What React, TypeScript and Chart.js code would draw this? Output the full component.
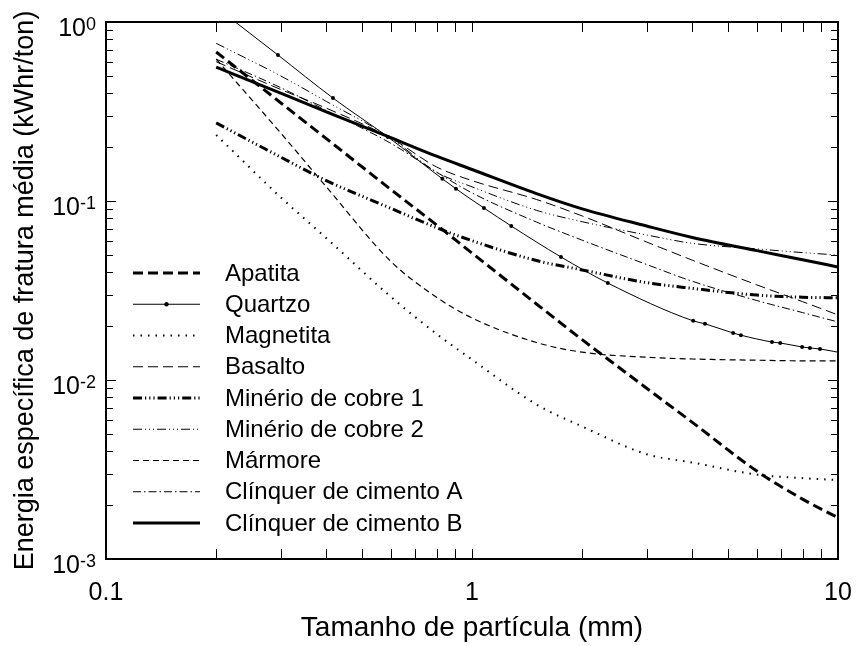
import React, { useEffect, useRef } from 'react';
import { Chart, registerables } from 'chart.js';

Chart.register(...registerables);

const FONT = "'Liberation Sans', Arial, sans-serif";

// Particle sizes (mm) at which the curves were read
const SIZES = [0.2, 0.3, 0.4, 0.6, 0.8, 1, 1.5, 2, 3, 4, 6, 8, 10];

const APATITA = [0.68, 0.354, 0.223, 0.116, 0.0735, 0.0512, 0.0266, 0.0168, 0.009, 0.0058, 0.0031, 0.00216, 0.0017];
const MAGNETITA = [0.234, 0.105, 0.062, 0.0292, 0.0181, 0.013, 0.0073, 0.0055, 0.00385, 0.00346, 0.00296, 0.00283, 0.00276];
const BASALTO = [0.6, 0.42, 0.33, 0.225, 0.155, 0.13, 0.102, 0.0825, 0.059, 0.0467, 0.034, 0.0274, 0.0231];
const MINERIO_COBRE_1 = [0.273, 0.176, 0.13, 0.091, 0.071, 0.06, 0.0465, 0.0412, 0.035, 0.0325, 0.0298, 0.029, 0.0288];
const MINERIO_COBRE_2 = [0.76, 0.5, 0.36, 0.225, 0.145, 0.12, 0.0887, 0.0766, 0.0646, 0.058, 0.054, 0.0515, 0.0499];
const MARMORE = [0.62, 0.24, 0.12, 0.046, 0.029, 0.0222, 0.0162, 0.0143, 0.0134, 0.0131, 0.0129, 0.0128, 0.0128];
const CLINQUER_A = [0.62, 0.43, 0.32, 0.21, 0.145, 0.111, 0.0763, 0.0604, 0.0442, 0.0356, 0.0278, 0.0238, 0.0211];
const CLINQUER_B = [0.56, 0.4, 0.315, 0.226, 0.178, 0.15, 0.11, 0.0904, 0.0725, 0.0626, 0.0528, 0.047, 0.0428];

// Quartzo has its own measured points (marked with dots)
const QUARTZO_SIZES = [0.2, 0.295, 0.417, 0.589, 0.83, 0.904, 1.078, 1.28, 1.75, 2.35, 4.02, 4.33, 5.17, 5.43, 6.6, 6.95, 7.98, 8.38, 8.93, 10];
const QUARTZO = [1.21, 0.654, 0.376, 0.228, 0.133, 0.117, 0.0914, 0.0725, 0.0487, 0.0348, 0.0214, 0.0206, 0.0183, 0.0178, 0.0163, 0.0161, 0.0153, 0.0151, 0.0149, 0.0143];

const X_TICK_VALUES = [0.1, 1, 10];
const X_TICK_LABELS = ['0.1', '1', '10'];
const Y_TICK_VALUES = [1, 0.1, 0.01, 0.001];
const Y_TICK_EXPONENTS = ['0', '-1', '-2', '-3'];

const X_TITLE = 'Tamanho de partícula (mm)';
const Y_TITLE = 'Energia específica de fratura média (kWhr/ton)';

type Series = { label: string; xs: number[]; ys: number[]; width: number; dash: number[]; marker?: boolean };

const SERIES: Series[] = [
  { label: 'Apatita', xs: SIZES, ys: APATITA, width: 3, dash: [10, 5] },
  { label: 'Quartzo', xs: QUARTZO_SIZES, ys: QUARTZO, width: 1, dash: [], marker: true },
  { label: 'Magnetita', xs: SIZES, ys: MAGNETITA, width: 2, dash: [1.5, 6] },
  { label: 'Basalto', xs: SIZES, ys: BASALTO, width: 1, dash: [10, 5] },
  { label: 'Minério de cobre 1', xs: SIZES, ys: MINERIO_COBRE_1, width: 3, dash: [9, 3, 1.2, 3, 1.2, 3, 1.2, 3] },
  { label: 'Minério de cobre 2', xs: SIZES, ys: MINERIO_COBRE_2, width: 1, dash: [9, 3, 1, 3, 1, 3, 1, 3] },
  { label: 'Mármore', xs: SIZES, ys: MARMORE, width: 1.2, dash: [6, 4] },
  { label: 'Clínquer de cimento A', xs: SIZES, ys: CLINQUER_A, width: 1, dash: [8, 3, 1.5, 3] },
  { label: 'Clínquer de cimento B', xs: SIZES, ys: CLINQUER_B, width: 3, dash: [] },
];

const framePlugin = {
  id: 'framePlugin',
  afterDraw(chart: any) {
    const { ctx, chartArea } = chart;
    const { left, right, top, bottom } = chartArea;
    const xs = chart.scales.x;
    const ys = chart.scales.y;
    ctx.save();
    ctx.strokeStyle = '#000';
    ctx.fillStyle = '#000';
    ctx.setLineDash([]);

    // inner ticks, x (bottom and top)
    ctx.lineWidth = 1;
    ctx.beginPath();
    for (let d = 0.1; d < 10; d *= 10) {
      for (let m = 2; m <= 10; m++) {
        const v = d * m;
        if (v >= 10) continue;
        const px = Math.round(xs.getPixelForValue(v)) + 0.5;
        ctx.moveTo(px, bottom);
        ctx.lineTo(px, bottom - 10);
        ctx.moveTo(px, top);
        ctx.lineTo(px, top + 10);
      }
    }
    // inner ticks, y (left and right)
    for (let d = 0.001; d < 1; d *= 10) {
      for (let m = 2; m <= 10; m++) {
        const v = d * m;
        if (v >= 0.999) continue;
        const py = Math.round(ys.getPixelForValue(v)) + 0.5;
        const len = m === 10 ? 10 : 7;
        ctx.moveTo(left, py);
        ctx.lineTo(left + len, py);
        ctx.moveTo(right, py);
        ctx.lineTo(right - len, py);
      }
    }
    ctx.stroke();

    // frame
    ctx.lineWidth = 2;
    ctx.strokeRect(left, top, right - left, bottom - top);

    // x tick labels
    ctx.font = `25px ${FONT}`;
    ctx.textAlign = 'center';
    ctx.textBaseline = 'alphabetic';
    X_TICK_VALUES.forEach((v, i) => {
      ctx.fillText(X_TICK_LABELS[i], xs.getPixelForValue(v), bottom + 41);
    });

    // y tick labels (10 with superscript exponent)
    ctx.textAlign = 'left';
    Y_TICK_VALUES.forEach((v, i) => {
      const py = ys.getPixelForValue(v);
      ctx.font = `18px ${FONT}`;
      const we = ctx.measureText(Y_TICK_EXPONENTS[i]).width;
      ctx.font = `25px ${FONT}`;
      const wb = ctx.measureText('10').width;
      const rightEdge = 96;
      ctx.fillText('10', rightEdge - we - wb, py + 14);
      ctx.font = `18px ${FONT}`;
      ctx.fillText(Y_TICK_EXPONENTS[i], rightEdge - we, py + 8);
    });

    // legend
    const x0 = 133;
    const x1 = 200;
    const tx = 225;
    const y0 = 273;
    const dy = 31.25;
    SERIES.forEach((s, i) => {
      const y = y0 + i * dy;
      ctx.lineWidth = s.width;
      ctx.setLineDash(s.dash);
      ctx.beginPath();
      ctx.moveTo(x0, y);
      ctx.lineTo(x1, y);
      ctx.stroke();
      ctx.setLineDash([]);
      if (s.marker) {
        ctx.beginPath();
        ctx.arc((x0 + x1) / 2, y, 2.2, 0, Math.PI * 2);
        ctx.fill();
      }
      ctx.font = `24px ${FONT}`;
      ctx.textBaseline = 'middle';
      ctx.fillText(s.label, tx, y + 1);
    });
    ctx.restore();
  },
};

export default function App() {
  const canvasRef = useRef<HTMLCanvasElement | null>(null);

  useEffect(() => {
    const canvas = canvasRef.current;
    if (!canvas) return;
    const datasets = SERIES.map((s) => ({
      label: s.label,
      data: s.xs.map((x, i) => ({ x, y: s.ys[i] })),
      borderColor: '#000',
      backgroundColor: '#000',
      borderWidth: s.width,
      borderDash: s.dash,
      pointRadius: s.marker ? s.xs.map((_, i) => (i === 0 || i === s.xs.length - 1 ? 0 : 2)) : 0,
      pointBackgroundColor: '#000',
      pointBorderWidth: 0,
      cubicInterpolationMode: 'monotone' as const,
      fill: false,
    }));

    const chart = new Chart(canvas, {
      type: 'line',
      data: { datasets },
      options: {
        animation: false,
        responsive: false,
        devicePixelRatio: 1,
        layout: { padding: { top: 22, right: 18, left: 0, bottom: 0 } },
        plugins: { legend: { display: false }, tooltip: { enabled: false } },
        scales: {
          x: {
            type: 'logarithmic',
            min: 0.1,
            max: 10,
            grid: { display: false },
            border: { display: false },
            ticks: { display: false },
            title: {
              display: true,
              text: X_TITLE,
              color: '#000',
              font: { family: FONT, size: 28 },
              padding: { top: 0, bottom: 1 },
            },
            afterFit: (scale: any) => {
              scale.height = 87;
            },
          },
          y: {
            type: 'logarithmic',
            min: 0.001,
            max: 1,
            grid: { display: false },
            border: { display: false },
            ticks: { display: false },
            title: {
              display: true,
              text: Y_TITLE,
              color: '#000',
              font: { family: FONT, size: 27 },
              padding: { top: 9, bottom: 0 },
            },
            afterFit: (scale: any) => {
              scale.width = 106;
            },
          },
        },
      },
      plugins: [framePlugin],
    });
    return () => chart.destroy();
  }, []);

  return (
    <div style={{ position: 'fixed', left: 0, top: 0, width: 856, height: 646, background: '#fff' }}>
      <canvas ref={canvasRef} width={856} height={646} style={{ display: 'block' }} />
    </div>
  );
}
